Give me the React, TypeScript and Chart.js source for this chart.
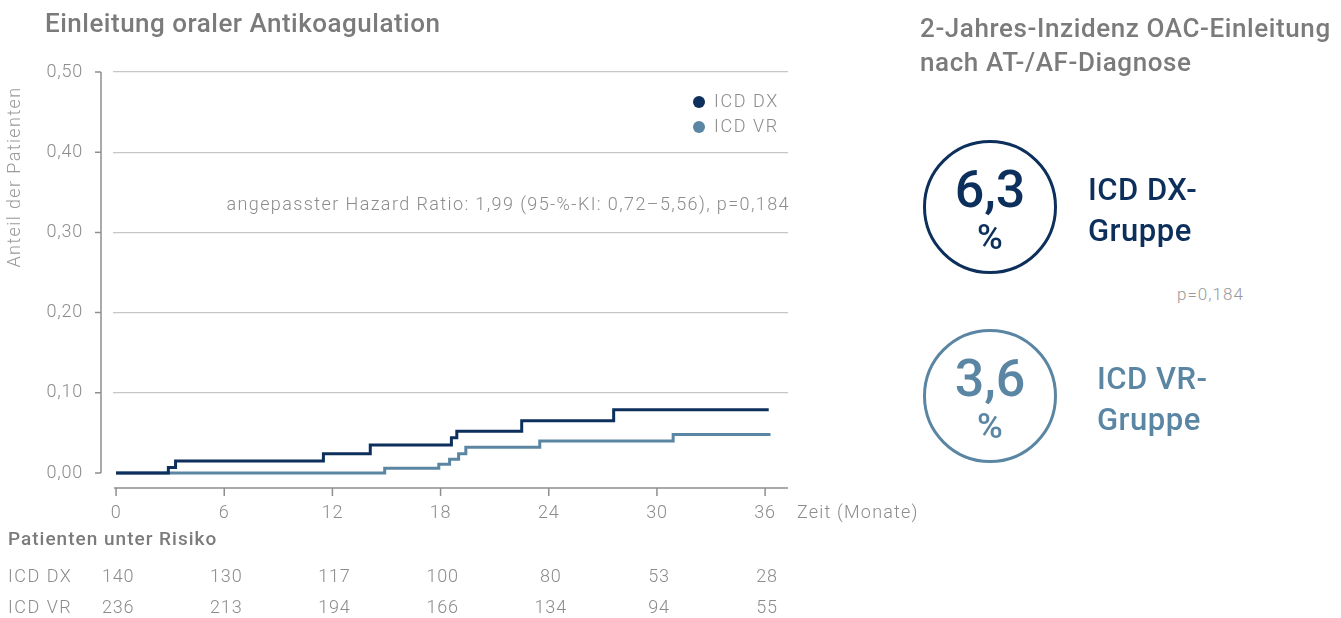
import React, { useEffect, useRef } from "react";
import { Chart, registerables } from "chart.js";

Chart.register(...registerables);

const monthTicks = [0, 6, 12, 18, 24, 30, 36];
const yTicks = [0, 0.1, 0.2, 0.3, 0.4, 0.5];
const dxTimes = [0, 2.9, 3.3, 11.5, 14.1, 18.6, 18.9, 22.5, 27.6, 36.2];
const dxValues = [0, 0.007, 0.015, 0.024, 0.035, 0.044, 0.052, 0.065, 0.079, 0.079];
const vrTimes = [0, 14.9, 17.9, 18.5, 19.0, 19.4, 23.5, 30.9, 36.3];
const vrValues = [0, 0.006, 0.011, 0.017, 0.024, 0.032, 0.04, 0.048, 0.048];
const riskDX = [140, 130, 117, 100, 80, 53, 28];
const riskVR = [236, 213, 194, 166, 134, 94, 55];
const seriesNames = ["ICD DX", "ICD VR"];

const NAVY = "#0c2f5b";
const STEEL = "#5b86a3";
const GRAY = "#8c8c8c";
const DARKGRAY = "#7b7b7b";
const FONT = "Roboto, 'DejaVu Sans', sans-serif";

const spacingPlugin = {
  id: "spacing",
  beforeDraw(chart: any) {
    chart.ctx.letterSpacing = "0.8px";
  },
};

const overlayPlugin = {
  id: "overlay",
  afterDraw(chart: any) {
    const ctx = chart.ctx;
    const xs = chart.scales.x;
    const ys = chart.scales.y;
    const ca = chart.chartArea;
    ctx.save();
    ctx.letterSpacing = "0px";
    // y axis line with ticks
    const ax = ca.left - 12;
    ctx.strokeStyle = "#8f8f8f";
    ctx.lineWidth = 1.5;
    ctx.beginPath();
    ctx.moveTo(ax, ys.getPixelForValue(0.5));
    ctx.lineTo(ax, ys.getPixelForValue(0));
    yTicks.forEach((v) => {
      const py = ys.getPixelForValue(v);
      ctx.moveTo(ax - 6, py);
      ctx.lineTo(ax, py);
    });
    ctx.stroke();
    // x axis line with ticks
    const ay = ca.bottom + 15;
    ctx.beginPath();
    ctx.moveTo(ca.left + 1, ay);
    ctx.lineTo(ca.right, ay);
    monthTicks.forEach((t) => {
      const px = xs.getPixelForValue(t);
      ctx.moveTo(px, ay);
      ctx.lineTo(px, ay + 8);
    });
    ctx.stroke();

    // y title
    ctx.fillStyle = "#9a9a9a";
    ctx.font = `300 18px ${FONT}`;
    ctx.letterSpacing = "1.4px";
    ctx.textAlign = "center";
    ctx.textBaseline = "middle";
    ctx.save();
    ctx.translate(15, 177);
    ctx.rotate(-Math.PI / 2);
    ctx.fillText("Anteil der Patienten", 0, 0);
    ctx.restore();

    // x title
    ctx.fillStyle = GRAY;
    ctx.font = `300 18px ${FONT}`;
    ctx.letterSpacing = "1.2px";
    ctx.textAlign = "left";
    ctx.fillText("Zeit (Monate)", 797, 513);

    // legend
    const legendColors = [NAVY, STEEL];
    ctx.letterSpacing = "1.6px";
    seriesNames.forEach((name, i) => {
      const ly = 102 + i * 25;
      ctx.fillStyle = legendColors[i];
      ctx.beginPath();
      ctx.arc(699, ly, 6, 0, Math.PI * 2);
      ctx.fill();
      ctx.fillStyle = GRAY;
      ctx.textAlign = "left";
      ctx.fillText(name, 714, ly);
    });

    // hazard ratio
    ctx.letterSpacing = "1.4px";
    ctx.textAlign = "right";
    ctx.fillText("angepasster Hazard Ratio: 1,99 (95-%-KI: 0,72–5,56), p=0,184", 790, 205);

    // risk table
    ctx.textAlign = "left";
    ctx.fillStyle = DARKGRAY;
    ctx.font = `500 19px ${FONT}`;
    ctx.letterSpacing = "1px";
    ctx.fillText("Patienten unter Risiko", 8, 540);
    ctx.font = `300 18px ${FONT}`;
    ctx.fillStyle = GRAY;
    const rows = [riskDX, riskVR];
    rows.forEach((row, r) => {
      const ry = 577 + r * 31;
      ctx.textAlign = "left";
      ctx.letterSpacing = "1.5px";
      ctx.fillText(seriesNames[r], 8, ry);
      ctx.textAlign = "center";
      ctx.letterSpacing = "0.8px";
      row.forEach((n, i) => {
        ctx.fillText(String(n), xs.getPixelForValue(monthTicks[i]) + 2, ry);
      });
    });
    ctx.restore();
    ctx.letterSpacing = "0px";
  },
};

function KMChart() {
  const ref = useRef<HTMLCanvasElement>(null);
  useEffect(() => {
    const canvas = ref.current!;
    const chart = new Chart(canvas, {
      type: "line",
      data: {
        datasets: [
          {
            label: seriesNames[0],
            data: dxTimes.map((t, i) => ({ x: t, y: dxValues[i] })),
            borderColor: NAVY,
            borderWidth: 3,
            pointRadius: 0,
            stepped: true,
            clip: false as any,
          },
          {
            label: seriesNames[1],
            data: vrTimes.map((t, i) => ({ x: t, y: vrValues[i] })),
            borderColor: STEEL,
            borderWidth: 3,
            pointRadius: 0,
            stepped: true,
            clip: false as any,
          },
        ],
      },
      options: {
        animation: false,
        responsive: false,
        devicePixelRatio: 1,
        layout: { padding: { top: 72, right: 142, left: 0, bottom: 0 } },
        plugins: { legend: { display: false }, tooltip: { enabled: false } },
        scales: {
          x: {
            type: "linear",
            min: -0.17,
            max: 37.27,
            afterBuildTicks: (s: any) => {
              s.ticks = monthTicks.map((v) => ({ value: v }));
            },
            afterFit: (s: any) => {
              s.height = 145;
            },
            grid: { display: false, drawTicks: false },
            border: { display: false },
            ticks: {
              padding: 30,
              color: GRAY,
              font: { family: FONT, size: 18, weight: "300" as any },
              maxRotation: 0,
              autoSkip: false,
            },
          },
          y: {
            min: 0,
            max: 0.5,
            afterBuildTicks: (s: any) => {
              s.ticks = yTicks.map((v) => ({ value: v }));
            },
            afterFit: (s: any) => {
              s.width = 113;
            },
            grid: {
              drawTicks: false,
              color: (c: any) => (c.tick && c.tick.value === 0 ? "rgba(0,0,0,0)" : "#c6c6c6"),
              lineWidth: 1.2,
            },
            border: { display: false },
            ticks: {
              padding: 30,
              color: GRAY,
              font: { family: FONT, size: 18, weight: "300" as any },
              callback: (v: any) => Number(v).toFixed(2).replace(".", ","),
            },
          },
        },
      },
      plugins: [spacingPlugin, overlayPlugin],
    });
    return () => chart.destroy();
  }, []);
  return (
    <canvas
      ref={ref}
      width={930}
      height={618}
      style={{ position: "absolute", left: 0, top: 0, width: 930, height: 618 }}
    />
  );
}

function Circle({ top, color, value, label1, label2, labelLeft, labelSpacing }: any) {
  return (
    <>
      <div
        style={{
          position: "absolute",
          left: 923,
          top,
          width: 128,
          height: 128,
          border: `3px solid ${color}`,
          borderRadius: "50%",
          color,
          fontFamily: FONT,
          textAlign: "center",
        }}
      >
        <div style={{ position: "absolute", left: 0, right: 0, top: 21, fontSize: 52, lineHeight: "52px", fontWeight: 500 }}>
          {value}
        </div>
        <div style={{ position: "absolute", left: 0, right: 0, top: 77, fontSize: 35, lineHeight: "36px", fontWeight: 500 }}>%</div>
      </div>
      <div
        style={{
          position: "absolute",
          left: labelLeft,
          top: top + 29,
          color,
          fontFamily: FONT,
          fontSize: 31,
          lineHeight: "41px",
          fontWeight: 500,
          letterSpacing: labelSpacing,
          whiteSpace: "nowrap",
        }}
      >
        {label1}
        <br />
        {label2}
      </div>
    </>
  );
}

export default function App() {
  return (
    <div style={{ position: "absolute", left: 0, top: 0, width: 1341, height: 618, background: "#fff", overflow: "hidden" }}>
      <KMChart />
      <div
        style={{
          position: "absolute",
          left: 45,
          top: 8,
          fontFamily: FONT,
          fontSize: 26,
          lineHeight: "30px",
          letterSpacing: "0.5px",
          fontWeight: 500,
          color: DARKGRAY,
          whiteSpace: "nowrap",
        }}
      >
        Einleitung oraler Antikoagulation
      </div>
      <div
        style={{
          position: "absolute",
          left: 920,
          top: 11,
          fontFamily: FONT,
          fontSize: 26,
          lineHeight: "34px",
          letterSpacing: "0.6px",
          fontWeight: 500,
          color: DARKGRAY,
          whiteSpace: "nowrap",
        }}
      >
        2-Jahres-Inzidenz OAC-Einleitung
        <br />
        nach AT-/AF-Diagnose
      </div>
      <Circle top={140} color={NAVY} value="6,3" label1="ICD DX-" label2="Gruppe" labelLeft={1088} labelSpacing="0.5px" />
      <div
        style={{
          position: "absolute",
          left: 1177,
          top: 284,
          fontFamily: FONT,
          fontSize: 17,
          fontWeight: 300,
          letterSpacing: "1px",
          color: "#999",
        }}
      >
        p=0,184
      </div>
      <Circle top={329} color={STEEL} value="3,6" label1="ICD VR-" label2="Gruppe" labelLeft={1097} labelSpacing="0.5px" />
    </div>
  );
}
